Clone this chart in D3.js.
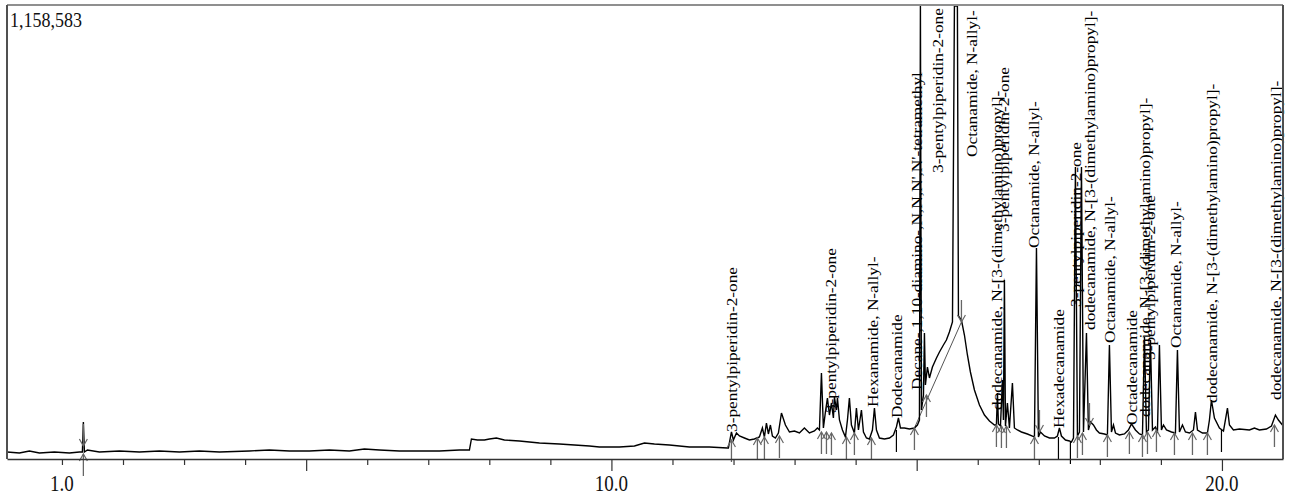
<!DOCTYPE html>
<html><head><meta charset="utf-8">
<script src="https://cdn.jsdelivr.net/npm/d3@7"></script>
<style>html,body{margin:0;padding:0;background:#fff;} svg{display:block;}</style>
</head><body>
<svg id="chart" width="1293" height="497"></svg>
<script>
// ---- data (retention time in min, intensity in thousands of counts) ----
const yMaxCounts = 1158583;
const timeDomain = [0.1, 21.0];
const tickValues = [1,2,3,4,5,6,7,8,9,10,11,12,13,14,15,16,17,18,19,20];
const majorTicks = [5,10,15,20];
const labeledTicks = [1,10,20];

const chromatogram = [[0.090,20.4],[0.303,17.9],[0.467,23.0],[0.631,17.9],[0.876,20.4],[1.122,17.9],[1.286,20.4],[1.335,20.4],[1.351,97.0],[1.368,20.4],[1.417,25.5],[1.613,20.4],[1.941,23.0],[2.268,20.4],[2.596,23.0],[2.924,20.4],[3.251,23.0],[3.579,20.4],[4.070,23.0],[4.398,25.5],[4.726,23.0],[5.053,23.0],[5.381,25.5],[5.708,23.0],[5.954,28.1],[6.200,25.5],[6.527,23.0],[6.855,23.0],[7.183,23.0],[7.510,25.5],[7.674,25.5],[7.707,53.6],[7.805,51.0],[7.920,51.0],[8.002,53.6],[8.116,56.1],[8.247,51.0],[8.493,48.5],[8.821,43.4],[9.148,40.8],[9.394,38.3],[9.640,35.7],[9.803,33.2],[10.131,33.2],[10.377,35.7],[10.541,43.4],[10.704,40.8],[10.950,38.3],[11.278,33.2],[11.605,33.2],[11.900,30.6],[11.916,30.6],[11.966,71.5],[11.998,51.0],[12.048,68.9],[12.097,61.2],[12.179,56.1],[12.260,51.0],[12.342,53.6],[12.424,58.7],[12.473,81.7],[12.506,58.7],[12.539,94.4],[12.571,66.4],[12.604,89.3],[12.637,61.2],[12.686,56.1],[12.735,68.9],[12.785,119.9],[12.850,89.3],[12.916,71.5],[12.998,74.0],[13.079,68.9],[13.161,81.7],[13.243,68.9],[13.325,74.0],[13.374,81.7],[13.407,76.6],[13.440,222.0],[13.472,81.7],[13.505,122.5],[13.538,158.2],[13.571,114.8],[13.604,145.5],[13.636,107.2],[13.653,160.8],[13.686,127.6],[13.702,158.2],[13.735,102.1],[13.784,76.6],[13.833,58.7],[13.866,102.1],[13.898,158.2],[13.931,89.3],[13.980,68.9],[14.013,132.7],[14.046,76.6],[14.095,127.6],[14.128,71.5],[14.177,56.1],[14.226,53.6],[14.275,76.6],[14.308,132.7],[14.341,76.6],[14.390,56.1],[14.472,53.6],[14.554,56.1],[14.619,63.8],[14.668,84.2],[14.701,107.2],[14.734,81.7],[14.799,81.7],[14.881,79.1],[14.963,81.7],[15.012,89.3],[15.045,102.1],[15.061,1158.6],[15.078,127.6],[15.111,165.9],[15.127,324.1],[15.143,191.4],[15.176,237.3],[15.209,209.3],[15.258,237.3],[15.324,260.3],[15.373,275.6],[15.438,293.5],[15.487,306.2],[15.536,326.7],[15.586,352.2],[15.618,1158.6],[15.667,1158.6],[15.684,367.5],[15.733,357.3],[15.782,319.0],[15.831,268.0],[15.880,224.6],[15.946,178.6],[16.028,140.4],[16.110,114.8],[16.192,99.5],[16.274,89.3],[16.306,89.3],[16.323,171.0],[16.339,91.9],[16.372,86.8],[16.405,204.2],[16.421,102.1],[16.437,459.4],[16.454,86.8],[16.486,145.5],[16.519,81.7],[16.568,196.5],[16.601,81.7],[16.650,76.6],[16.716,71.5],[16.814,66.4],[16.896,61.2],[16.929,58.7],[16.962,541.0],[16.994,58.7],[17.027,71.5],[17.093,61.2],[17.174,56.1],[17.256,56.1],[17.305,61.2],[17.338,81.7],[17.371,61.2],[17.437,51.0],[17.502,48.5],[17.535,45.9],[17.568,56.1],[17.600,747.7],[17.633,61.2],[17.666,71.5],[17.699,747.7],[17.732,71.5],[17.781,324.1],[17.813,76.6],[17.846,97.0],[17.895,89.3],[17.944,76.6],[17.993,68.9],[18.075,66.4],[18.124,63.8],[18.157,293.5],[18.190,71.5],[18.223,89.3],[18.256,68.9],[18.321,63.8],[18.403,66.4],[18.468,76.6],[18.518,91.9],[18.583,76.6],[18.649,66.4],[18.698,63.8],[18.731,313.9],[18.763,71.5],[18.796,76.6],[18.829,306.2],[18.862,76.6],[18.911,84.2],[18.943,68.9],[18.976,293.5],[19.009,76.6],[19.042,89.3],[19.091,76.6],[19.173,71.5],[19.238,68.9],[19.271,280.7],[19.304,71.5],[19.353,89.3],[19.402,71.5],[19.468,68.9],[19.533,76.6],[19.566,122.5],[19.599,76.6],[19.681,68.9],[19.762,68.9],[19.795,102.1],[19.828,153.1],[19.877,107.2],[19.959,81.7],[20.025,74.0],[20.057,102.1],[20.090,132.7],[20.123,89.3],[20.188,76.6],[20.287,79.1],[20.450,76.6],[20.532,81.7],[20.614,76.6],[20.729,79.1],[20.811,86.8],[20.876,114.8],[20.925,102.1],[20.991,89.3]];

// integration markers: time, intensity at tip, kind
const markerTime = [1.351,1.351,11.966,12.391,12.506,12.752,13.440,13.522,13.604,13.849,13.980,14.259,14.668,14.963,15.160,15.733,16.306,16.388,16.470,16.929,17.011,17.322,17.518,17.633,17.715,17.830,18.124,18.484,18.698,18.780,18.927,19.222,19.517,19.762,19.992,20.860];
const markerIntensity = [15.3,35.7,51.0,56.1,58.7,61.2,71.5,71.5,68.9,58.7,68.9,56.1,76.6,81.7,165.9,352.2,89.3,86.8,86.8,58.7,71.5,58.7,45.9,61.2,68.9,89.3,63.8,71.5,63.8,71.5,76.6,68.9,68.9,68.9,76.6,89.3];
const markerKind = ["up","down","up","up","up","up","up","up","up","up","up","up","drop","up","up","down","up","up","up","up","down","drop","drop","up","up","down","up","up","up","up","up","up","up","up","drop","up"];

// integration baselines under the broad hump (start/end time and intensity)
const baselineSeg = [[14.963,81.7,15.733,352.2]];

// peak annotations
const labelTime = [11.998,13.620,14.308,14.701,15.029,15.373,15.930,16.339,16.454,16.945,17.355,17.633,17.862,18.190,18.550,18.763,18.845,19.271,19.861,20.909];
const labelIntensity = [71.5,119.9,135.3,107.2,178.6,732.4,773.3,127.6,581.9,541.0,81.7,390.5,331.8,298.6,89.3,109.7,255.2,285.8,145.5,153.1];
const labelNames = [
 "3-pentylpiperidin-2-one",
 "3-pentylpiperidin-2-one",
 "Hexanamide, N-allyl-",
 "Dodecanamide",
 "Decane-,1,10-diamino-,N,N,N',N'-tetramethyl",
 "3-pentylpiperidin-2-one",
 "Octanamide, N-allyl-",
 "dodecanamide, N-[3-(dimethylamino)propyl]-",
 "3-pentylpiperidin-2-one",
 "Octanamide, N-allyl-",
 "Hexadecanamide",
 "3-pentylpiperidin-2-one",
 "dodecanamide, N-[3-(dimethylamino)propyl]-",
 "Octanamide, N-allyl-",
 "Octadecanamide",
 "dodecanamide, N-[3-(dimethylamino)propyl]-",
 "3-pentylpiperidin-2-one",
 "Octanamide, N-allyl-",
 "dodecanamide, N-[3-(dimethylamino)propyl]-",
 "dodecanamide, N-[3-(dimethylamino)propyl]-"
];

// ---- drawing ----
const serif = "'Liberation Serif','Times New Roman',serif";
const L = 7, R = 1283, T = 5, B = 459;
const svg = d3.select("#chart");
const x = d3.scaleLinear().domain(timeDomain).range([L, R]);
const y = d3.scaleLinear().domain([0, yMaxCounts/1000]).range([460, 6]);

svg.append("defs").append("clipPath").attr("id","plotclip")
  .append("rect").attr("x",L).attr("y",T).attr("width",R-L).attr("height",B-T);

// integration baseline segments
baselineSeg.forEach(s => {
  svg.append("line").attr("x1",x(s[0])).attr("y1",y(s[1])).attr("x2",x(s[2])).attr("y2",y(s[3]))
    .attr("stroke","#555").attr("stroke-width",1);
});

// trace
const line = d3.line().x(d => x(d[0])).y(d => y(d[1]));
svg.append("path").datum(chromatogram)
  .attr("clip-path","url(#plotclip)")
  .attr("d", line).attr("fill","none").attr("stroke","#000")
  .attr("stroke-width",1.4).attr("stroke-linejoin","miter");

// markers
const mg = svg.append("g");
const mc = "#666";
markerTime.forEach((t,i) => {
  const tx = x(t), ty = y(markerIntensity[i]), k = markerKind[i];
  if (k === "up") {
    mg.append("line").attr("x1",tx).attr("x2",tx).attr("y1",ty).attr("y2",ty+22).attr("stroke",mc).attr("stroke-width",1.3);
    mg.append("path").attr("d",`M${tx-4},${ty+7}L${tx},${ty}L${tx+4},${ty+7}`).attr("fill","none").attr("stroke",mc).attr("stroke-width",1.2);
  } else if (k === "down") {
    mg.append("line").attr("x1",tx).attr("x2",tx).attr("y1",ty-22).attr("y2",ty).attr("stroke",mc).attr("stroke-width",1.3);
    mg.append("path").attr("d",`M${tx-4},${ty-7}L${tx},${ty}L${tx+4},${ty-7}`).attr("fill","none").attr("stroke",mc).attr("stroke-width",1.2);
  } else {
    mg.append("line").attr("x1",tx).attr("x2",tx).attr("y1",ty).attr("y2",ty+22).attr("stroke","#000").attr("stroke-width",1.2);
  }
});

// peak labels
const lg = svg.append("g");
labelNames.forEach((name,i) => {
  lg.append("text")
    .attr("transform", `translate(${x(labelTime[i])},${y(labelIntensity[i])}) rotate(-90) scale(1.2,1)`)
    .attr("dy","0.23em")
    .style("font-family", serif).style("font-size","14.4px").attr("fill","#000")
    .text(name);
});

// frame
svg.append("line").attr("x1",L).attr("x2",R).attr("y1",T).attr("y2",T).attr("stroke","#8f8f8f").attr("stroke-width",2);
svg.append("line").attr("x1",L).attr("x2",L).attr("y1",T).attr("y2",B).attr("stroke","#505050").attr("stroke-width",2);
svg.append("line").attr("x1",R).attr("x2",R).attr("y1",T).attr("y2",B).attr("stroke","#505050").attr("stroke-width",2);

// axis
const axis = d3.axisBottom(x).tickValues(tickValues).tickSize(6).tickSizeOuter(0).tickFormat("");
const ax = svg.append("g").attr("transform",`translate(0,${B})`).call(axis);
ax.select(".domain").attr("stroke","#333").attr("stroke-width",1.6);
ax.selectAll(".tick line").attr("stroke","#333").attr("stroke-width",1.2)
  .attr("y2", d => majorTicks.includes(d) ? 12 : 6);
labeledTicks.forEach(v => {
  svg.append("text")
    .attr("transform", `translate(${x(v)},491) scale(1,1.2)`)
    .attr("text-anchor","middle")
    .style("font-family", serif).style("font-size","19px").attr("fill","#111")
    .text(d3.format(".1f")(v));
});

// max intensity label
svg.append("text")
  .attr("transform","translate(10,26.5) scale(1,1.2)")
  .style("font-family", serif).style("font-size","18px").attr("fill","#111")
  .text(d3.format(",")(yMaxCounts));
</script>
</body></html>
